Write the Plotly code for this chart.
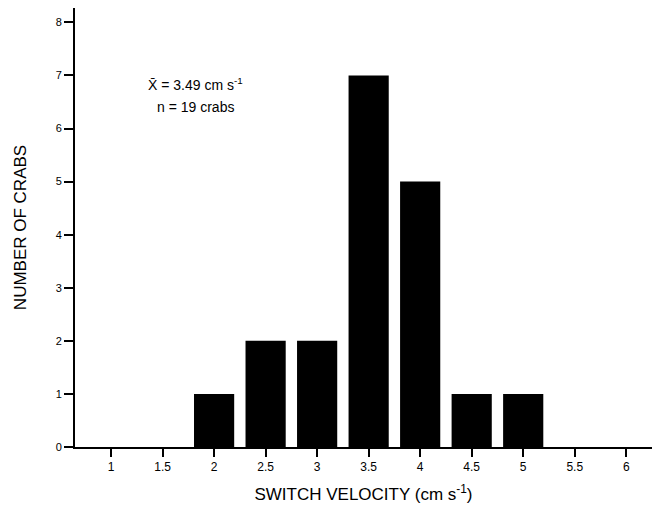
import plotly.graph_objects as go

velocity = [1, 1.5, 2, 2.5, 3, 3.5, 4, 4.5, 5, 5.5, 6]
crabs = [0, 0, 1, 2, 2, 7, 5, 1, 1, 0, 0]
x_tick_labels = ["1", "1.5", "2", "2.5", "3", "3.5", "4", "4.5", "5", "5.5", "6"]
y_ticks = [0, 1, 2, 3, 4, 5, 6, 7, 8]

font_family = "Liberation Sans, Arial, sans-serif"

fig = go.Figure()
fig.add_trace(go.Bar(
    x=velocity, y=crabs, width=0.39,
    marker=dict(color="black", line=dict(width=0)),
    showlegend=False,
))

fig.update_layout(
    width=661, height=510,
    margin=dict(l=67, r=17, t=0, b=71, autoexpand=False),
    paper_bgcolor="white", plot_bgcolor="white",
    font=dict(family=font_family, color="black"),
    xaxis=dict(
        range=[0.65, 6.25], tickvals=velocity, ticktext=x_tick_labels,
        showline=True, linecolor="black", linewidth=2, mirror=False,
        ticks="outside", ticklen=8, tickwidth=2, tickcolor="#000000",
        tickfont=dict(size=12),
        showgrid=False, zeroline=False, automargin=False,
        title=dict(text="SWITCH VELOCITY (cm s<sup>-1</sup>)", font=dict(size=17), standoff=15),
    ),
    yaxis=dict(
        range=[0, 8.27], tickvals=y_ticks,
        showline=True, linecolor="black", linewidth=2, mirror=False,
        ticks="outside", ticklen=9, tickwidth=2, tickcolor="#000000",
        tickfont=dict(size=11),
        showgrid=False, zeroline=False, automargin=False,
        title=dict(text="NUMBER OF CRABS", font=dict(size=17), standoff=25),
    ),
    annotations=[
        dict(x=1.82, y=6.84, xref="x", yref="y", text="X\u0304 = 3.49 cm s<sup>-1</sup>",
             showarrow=False, font=dict(size=14)),
        dict(x=1.82, y=6.40, xref="x", yref="y", text="n = 19 crabs",
             showarrow=False, font=dict(size=14)),
    ],
)

fig.write_html("out.html")
